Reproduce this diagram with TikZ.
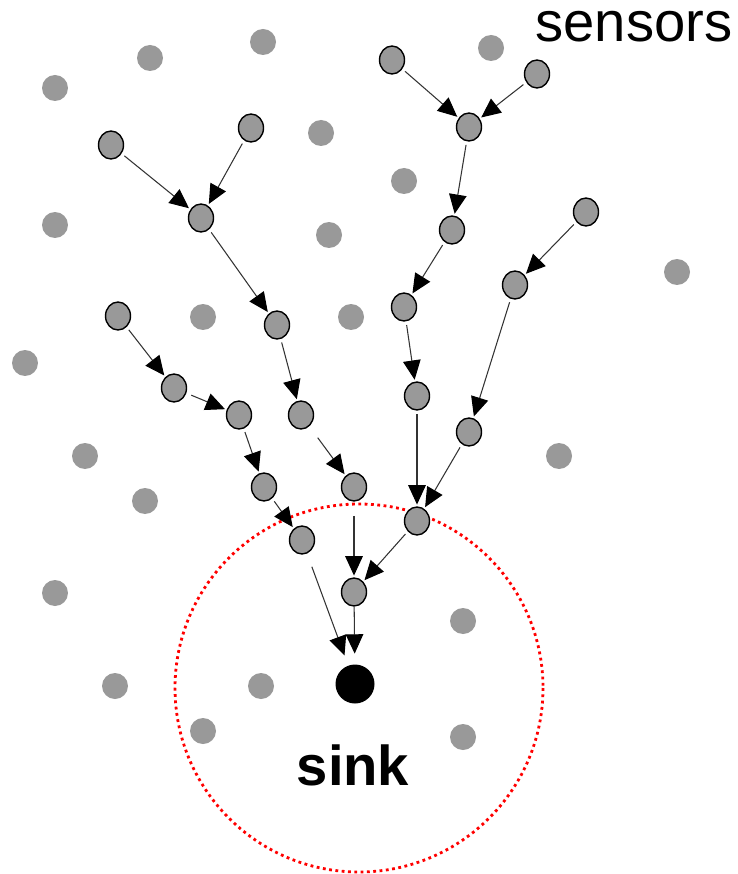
\documentclass[tikz,border=0pt]{standalone}
\usepackage{fontspec}
\setmainfont{Liberation Sans}
\usetikzlibrary{arrows.meta,shapes.geometric}
\definecolor{nodegray}{HTML}{999999}
\tikzset{
  sensor/.style={ellipse,draw=black,line width=0.8pt,fill=nodegray,inner sep=0pt,minimum width=0.5cm,minimum height=0.56cm},
  idle/.style={circle,fill=nodegray,inner sep=0pt,minimum size=0.52cm},
  hop/.style={draw=black!80,line width=0.6pt,-{Triangle[length=11pt,width=10pt,color=black,fill=black]},shorten <=2pt,shorten >=1pt},
}
\begin{document}
\begin{tikzpicture}[x=0.02cm,y=-0.02cm]
\useasboundingbox (0,0) rectangle (737,874);

% idle nodes (not on any route)
\foreach \p [count=\i] in {(55,88),(150,58),(263,42),(491,48),(321,133),(404,181),(55,225),(329,235),(677,272),(203,317),(351,317),(25,363),(85,456),(559,456),(145,501),(55,593),(463,621),(115,686),(261,686),(203,731),(463,737)}
  \node[idle] (idle\i) at \p {};

% radio range of the sink
\draw[red,dotted,line width=1.6pt] (359,688) circle [radius=184];

% sink
\node[circle,fill=black,inner sep=0pt,minimum size=0.78cm] (sink) at (355,684) {};
\node[font=\fontsize{32}{38}\selectfont\bfseries] (sinklabel) at (353,765) {sink};
\node[font=\fontsize{32}{38}\selectfont,inner sep=0pt,anchor=base] (senslabel) at (634,42) {sensors};

% routing sensors
\node[sensor] (a1) at (392,60) {};
\node[sensor] (a2) at (537,74) {};
\node[sensor] (a3) at (469,127) {};
\node[sensor] (a4) at (452,230) {};
\node[sensor] (a5) at (404,307) {};
\node[sensor] (a6) at (417,396) {};
\node[sensor] (a7) at (417,521) {};
\node[sensor] (b1) at (586,212) {};
\node[sensor] (b2) at (515,285) {};
\node[sensor] (b3) at (469,432) {};
\node[sensor] (c) at (354,592) {};
\node[sensor] (d1) at (111,145) {};
\node[sensor] (d2) at (251,128) {};
\node[sensor] (d3) at (201,218) {};
\node[sensor] (d4) at (277,325) {};
\node[sensor] (d5) at (301,415) {};
\node[sensor] (d6) at (354,487) {};
\node[sensor] (e1) at (118,316) {};
\node[sensor] (e2) at (174,388) {};
\node[sensor] (e3) at (239,415) {};
\node[sensor] (e4) at (264,487) {};
\node[sensor] (e5) at (302,540) {};

% multi-hop routes towards the sink
\draw[hop] (a1) -- (a3);
\draw[hop] (a2) -- (a3);
\draw[hop] (a3) -- (a4);
\draw[hop] (a4) -- (a5);
\draw[hop] (a5) -- (a6);
\draw[hop] (a6) -- (a7);
\draw[hop] (b1) -- (b2);
\draw[hop] (b2) -- (b3);
\draw[hop] (b3) -- (a7);
\draw[hop] (a7) -- (c);
\draw[hop] (d1) -- (d3);
\draw[hop] (d2) -- (d3);
\draw[hop] (d3) -- (d4);
\draw[hop] (d4) -- (d5);
\draw[hop,shorten <=8pt] (d5) -- (d6);
\draw[hop,shorten <=8pt] (d6) -- (c);
\draw[hop] (e1) -- (e2);
\draw[hop,shorten <=3pt] (e2) -- (e3);
\draw[hop] (e3) -- (e4);
\draw[hop] (e4) -- (e5);
\draw[hop,shorten <=8pt,shorten >=6pt] (e5) -- (sink);
\draw[hop,shorten <=0pt,shorten >=6pt] (c) -- (sink);
\end{tikzpicture}
\end{document}
